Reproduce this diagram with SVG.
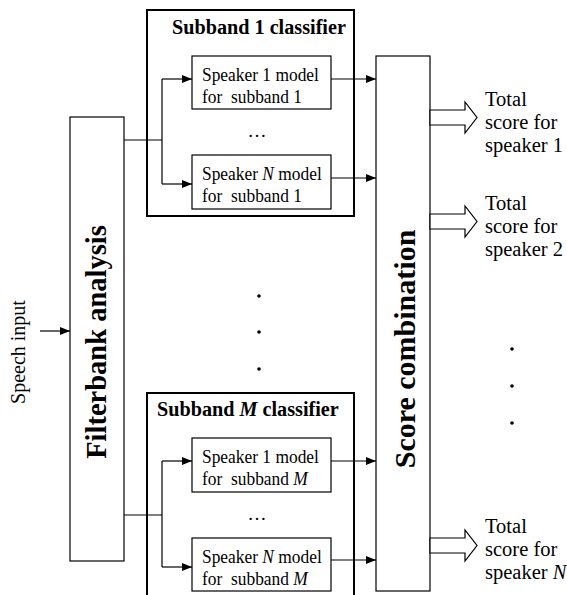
<svg xmlns="http://www.w3.org/2000/svg" width="567" height="595" viewBox="0 0 567 595" font-family="'Liberation Serif', 'DejaVu Serif', serif">
<style>
text{font-family:'Liberation Serif','DejaVu Serif',serif;fill:#000;white-space:pre}
.box{fill:#fff;stroke:#000;stroke-width:1.2}
.grp{fill:none;stroke:#000;stroke-width:2}
.ln{fill:none;stroke:#000;stroke-width:1.2}
.sp{font-size:17.4px}
.ttl{font-size:20.2px;font-weight:bold}
.out{font-size:20.5px}
.hol{fill:#fff;stroke:#000;stroke-width:1.2}
</style>
<defs>
<marker id="ah" viewBox="0 0 10 8" refX="10" refY="4" markerWidth="10" markerHeight="8" markerUnits="userSpaceOnUse" orient="auto">
<path d="M0,0 L10,4 L0,8 Z" fill="#000"/>
</marker>
</defs>
<g id="subband1">
<rect class="grp" x="147" y="10" width="207" height="206"/>
<text class="ttl" x="172" y="34">Subband 1 classifier</text>
</g>
<g id="subbandM">
<rect class="grp" x="147" y="393" width="207" height="210"/>
<text class="ttl" x="157" y="416">Subband <tspan font-style="italic">M</tspan> classifier</text>
</g>
<g id="filterbank">
<rect class="box" x="70" y="117" width="54" height="444"/>
<text font-size="28.5" font-weight="bold" text-anchor="middle" transform="translate(106,342) rotate(-90)">Filterbank analysis</text>
</g>
<g id="score">
<rect class="box" x="376" y="56" width="54" height="535"/>
<text font-size="30" font-weight="bold" text-anchor="middle" transform="translate(415,349) rotate(-90)">Score combination</text>
</g>
<g id="s1m1">
<rect class="box" x="192" y="56" width="139" height="53"/>
<text class="sp" transform="translate(202,81) scale(1,1.1)">Speaker 1 model</text>
<text class="sp" transform="translate(202,103) scale(1,1.1)">for  subband 1</text>
</g>
<g id="sNm1">
<rect class="box" x="192" y="155" width="139" height="54"/>
<text class="sp" transform="translate(202,180) scale(1,1.1)">Speaker <tspan font-style="italic">N</tspan> model</text>
<text class="sp" transform="translate(202,202) scale(1,1.1)">for  subband 1</text>
</g>
<g id="s1mM">
<rect class="box" x="192" y="438" width="139" height="54"/>
<text class="sp" transform="translate(202,463) scale(1,1.1)">Speaker 1 model</text>
<text class="sp" transform="translate(202,485) scale(1,1.1)">for  subband <tspan font-style="italic">M</tspan></text>
</g>
<g id="sNmM">
<rect class="box" x="192" y="538" width="139" height="53"/>
<text class="sp" transform="translate(202,563) scale(1,1.1)">Speaker <tspan font-style="italic">N</tspan> model</text>
<text class="sp" transform="translate(202,585) scale(1,1.1)">for  subband <tspan font-style="italic">M</tspan></text>
</g>
<g id="speech-input">
<text font-size="20" text-anchor="middle" transform="translate(25,352) rotate(-90)">Speech input</text>
</g>
<g id="ellipses">
<text font-size="19" x="257" y="137" text-anchor="middle">…</text>
<text font-size="19" x="257" y="520" text-anchor="middle">…</text>
<circle cx="259" cy="296" r="1.8"/>
<circle cx="259" cy="332" r="1.8"/>
<circle cx="259" cy="369" r="1.8"/>
<circle cx="512" cy="349" r="1.8"/>
<circle cx="512" cy="386" r="1.8"/>
<circle cx="512" cy="423" r="1.8"/>
</g>
<g id="outputs">
<polygon class="hol" points="430,110 465,110 465,102 477,117.5 465,133 465,125 430,125"/>
<polygon class="hol" points="430,214 465,214 465,206 477,221.5 465,237 465,229 430,229"/>
<polygon class="hol" points="430,538 465,538 465,530 477,545.5 465,561 465,553 430,553"/>
<text class="out" x="485" y="106">Total</text>
<text class="out" x="485" y="129">score for</text>
<text class="out" x="485" y="152">speaker 1</text>
<text class="out" x="485" y="210">Total</text>
<text class="out" x="485" y="233">score for</text>
<text class="out" x="485" y="256">speaker 2</text>
<text class="out" x="485" y="533">Total</text>
<text class="out" x="485" y="556">score for</text>
<text class="out" x="485" y="579">speaker <tspan font-style="italic">N</tspan></text>
</g>
<g id="connectors">
<line class="ln" x1="40" y1="331" x2="70" y2="331" marker-end="url(#ah)"/>
<polyline class="ln" points="124,140 162,140"/>
<line class="ln" x1="162" y1="79" x2="162" y2="184"/>
<line class="ln" x1="162" y1="79" x2="192" y2="79" marker-end="url(#ah)"/>
<line class="ln" x1="162" y1="184" x2="192" y2="184" marker-end="url(#ah)"/>
<line class="ln" x1="331" y1="79" x2="376" y2="79" marker-end="url(#ah)"/>
<line class="ln" x1="331" y1="178" x2="376" y2="178" marker-end="url(#ah)"/>
<polyline class="ln" points="124,515 162,515"/>
<line class="ln" x1="162" y1="461" x2="162" y2="567"/>
<line class="ln" x1="162" y1="461" x2="192" y2="461" marker-end="url(#ah)"/>
<line class="ln" x1="162" y1="567" x2="192" y2="567" marker-end="url(#ah)"/>
<line class="ln" x1="331" y1="461" x2="376" y2="461" marker-end="url(#ah)"/>
<line class="ln" x1="331" y1="560" x2="376" y2="560" marker-end="url(#ah)"/>
</g>
</svg>
